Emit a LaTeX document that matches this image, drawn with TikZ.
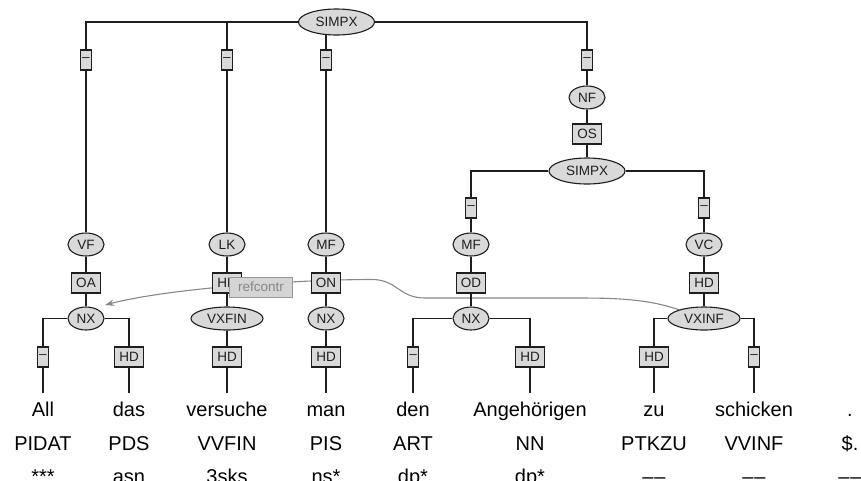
\documentclass[tikz,border=0pt]{standalone}
\usepackage{fontspec}
\setmainfont{Liberation Sans}
\usetikzlibrary{shapes.geometric,arrows.meta,calc}
\pgfdeclarelayer{bg}
\pgfsetlayers{bg,main}
\definecolor{nodefill}{RGB}{217,217,217}
\definecolor{linec}{RGB}{30,30,30}
\definecolor{refgray}{RGB}{135,135,135}
\definecolor{refborder}{RGB}{150,150,150}
\definecolor{reffill}{RGB}{212,212,212}
\tikzset{
  lab/.style={font=\fontsize{13.5}{16}\selectfont, draw=linec, fill=nodefill, line width=1.1pt, text=black!88},
  cat/.style={lab, ellipse, inner sep=0pt, minimum width=36pt, minimum height=23pt},
  widecat/.style={cat, minimum width=72pt},
  topcat/.style={cat, minimum width=76pt, minimum height=26pt},
  fn/.style={lab, rectangle, inner xsep=4.5pt, inner ysep=0pt, minimum height=20pt},
  dashfn/.style={fn, inner xsep=1.5pt, minimum width=11pt},
  edge/.style={line width=1.1pt, draw=linec},
  word/.style={font=\fontsize{20}{24}\selectfont, anchor=base, inner xsep=0pt, inner ysep=8.7pt, text height=14.3pt, text depth=0pt},
  tagtext/.style={font=\fontsize{20}{24}\selectfont, anchor=base, inner sep=0pt},
  refedge/.style={line width=1.1pt, draw=refgray, -{Stealth[length=9pt,width=6.5pt]}},
  reflab/.style={font=\fontsize{13.5}{16}\selectfont, draw=refborder, fill=reffill, text=refgray, line width=0.9pt, inner xsep=8.5pt, inner ysep=0pt, minimum height=20pt}
}
\begin{document}
\begin{tikzpicture}[x=1pt,y=-1pt]
\useasboundingbox (0,0) rectangle (861,480);
% upper structure
\node[topcat] (s0) at (336.5,22) {SIMPX};
\node[dashfn] (d1) at (86,60) {--};
\node[dashfn] (d2) at (227,60) {--};
\node[dashfn] (d3) at (326,60) {--};
\node[dashfn] (d4) at (587,60) {--};
\node[cat] (nf) at (587,97.5) {NF};
\node[fn] (os) at (587,134) {OS};
\node[topcat] (s1) at (587,171) {SIMPX};
\node[dashfn] (d5) at (471,208) {--};
\node[dashfn] (d6) at (704,208) {--};
% fields
\node[cat] (vf) at (86,244.5) {VF};
\node[cat] (lk) at (227,244.5) {LK};
\node[cat] (mf1) at (326,244.5) {MF};
\node[cat] (mf2) at (471,244.5) {MF};
\node[cat] (vc) at (704,244.5) {VC};
\node[fn] (oa) at (86,283) {OA};
\node[fn] (hd1) at (227,283) {HD};
\node[fn] (on) at (326,283) {ON};
\node[fn] (od) at (471,283) {OD};
\node[fn] (hd2) at (704,283) {HD};
% phrases
\node[cat] (nx1) at (86,318.5) {NX};
\node[widecat] (vxfin) at (227,318.5) {VXFIN};
\node[cat] (nx2) at (326,318.5) {NX};
\node[cat] (nx3) at (471,318.5) {NX};
\node[widecat] (vxinf) at (704,318.5) {VXINF};
% bottom edge labels
\node[dashfn] (b1) at (43,357) {--};
\node[fn] (b2) at (129,357) {HD};
\node[fn] (b3) at (227,357) {HD};
\node[fn] (b4) at (326,357) {HD};
\node[dashfn] (b5) at (413,357) {--};
\node[fn] (b6) at (530,357) {HD};
\node[fn] (b7) at (654,357) {HD};
\node[dashfn] (b8) at (754,357) {--};
% words
\node[word] (w1) at (43,416) {All};
\node[word] (w2) at (129,416) {das};
\node[word] (w3) at (227,416) {versuche};
\node[word] (w4) at (326,416) {man};
\node[word] (w5) at (413,416) {den};
\node[word] (w6) at (530,416) {Angehörigen};
\node[word] (w7) at (654,416) {zu};
\node[word] (w8) at (754,416) {schicken};
\node[word] (w9) at (850,416) {.};
% POS tags
\node[tagtext] (p1) at (43,450) {PIDAT};
\node[tagtext] (p2) at (129,450) {PDS};
\node[tagtext] (p3) at (227,450) {VVFIN};
\node[tagtext] (p4) at (326,450) {PIS};
\node[tagtext] (p5) at (413,450) {ART};
\node[tagtext] (p6) at (530,450) {NN};
\node[tagtext] (p7) at (654,450) {PTKZU};
\node[tagtext] (p8) at (754,450) {VVINF};
\node[tagtext] (p9) at (850,450) {\$.};
% morphology
\node[tagtext] (m1) at (43,483) {***};
\node[tagtext] (m2) at (129,483) {asn};
\node[tagtext] (m3) at (227,483) {3sks};
\node[tagtext] (m4) at (326,483) {ns*};
\node[tagtext] (m5) at (413,483) {dp*};
\node[tagtext] (m6) at (530,483) {dp*};
\node[tagtext] (m7) at (654,483) {\textendash\kern0.8pt\textendash};
\node[tagtext] (m8) at (754,483) {\textendash\kern0.8pt\textendash};
\node[tagtext] (m9) at (850,483) {\textendash\kern0.8pt\textendash};
% secondary edge label
\node[reflab] (rc) at (261,287) {refcontr};
\coordinate (reftip) at ($(nx1.north east)+(6pt,5pt)$);
\begin{pgfonlayer}{bg}
\draw[refedge] (vxinf) .. controls (645,298) and (610,298) .. (570,298) -- (425,298)
  .. controls (399,298) and (397,279.5) .. (372,279.5)
  .. controls (300,279.5) and (170,288) .. (reftip);
\draw[edge] (s0) -| (d1);
\draw[edge] (s0) -| (d2);
\draw[edge] (s0) -| (d3);
\draw[edge] (s0) -| (d4);
\draw[edge] (d1) -- (vf);
\draw[edge] (vf) -- (oa);
\draw[edge] (oa) -- (nx1);
\draw[edge] (nx1) -| (b1);
\draw[edge] (nx1) -| (b2);
\draw[edge] (b1) -- (w1);
\draw[edge] (b2) -- (w2);
\draw[edge] (d2) -- (lk);
\draw[edge] (lk) -- (hd1);
\draw[edge] (hd1) -- (vxfin);
\draw[edge] (vxfin) -- (b3);
\draw[edge] (b3) -- (w3);
\draw[edge] (d3) -- (mf1);
\draw[edge] (mf1) -- (on);
\draw[edge] (on) -- (nx2);
\draw[edge] (nx2) -- (b4);
\draw[edge] (b4) -- (w4);
\draw[edge] (d4) -- (nf);
\draw[edge] (nf) -- (os);
\draw[edge] (os) -- (s1);
\draw[edge] (s1) -| (d5);
\draw[edge] (s1) -| (d6);
\draw[edge] (d5) -- (mf2);
\draw[edge] (mf2) -- (od);
\draw[edge] (od) -- (nx3);
\draw[edge] (nx3) -| (b5);
\draw[edge] (nx3) -| (b6);
\draw[edge] (b5) -- (w5);
\draw[edge] (b6) -- (w6);
\draw[edge] (d6) -- (vc);
\draw[edge] (vc) -- (hd2);
\draw[edge] (hd2) -- (vxinf);
\draw[edge] (vxinf) -| (b7);
\draw[edge] (vxinf) -| (b8);
\draw[edge] (b7) -- (w7);
\draw[edge] (b8) -- (w8);
\end{pgfonlayer}
\end{tikzpicture}
\end{document}
